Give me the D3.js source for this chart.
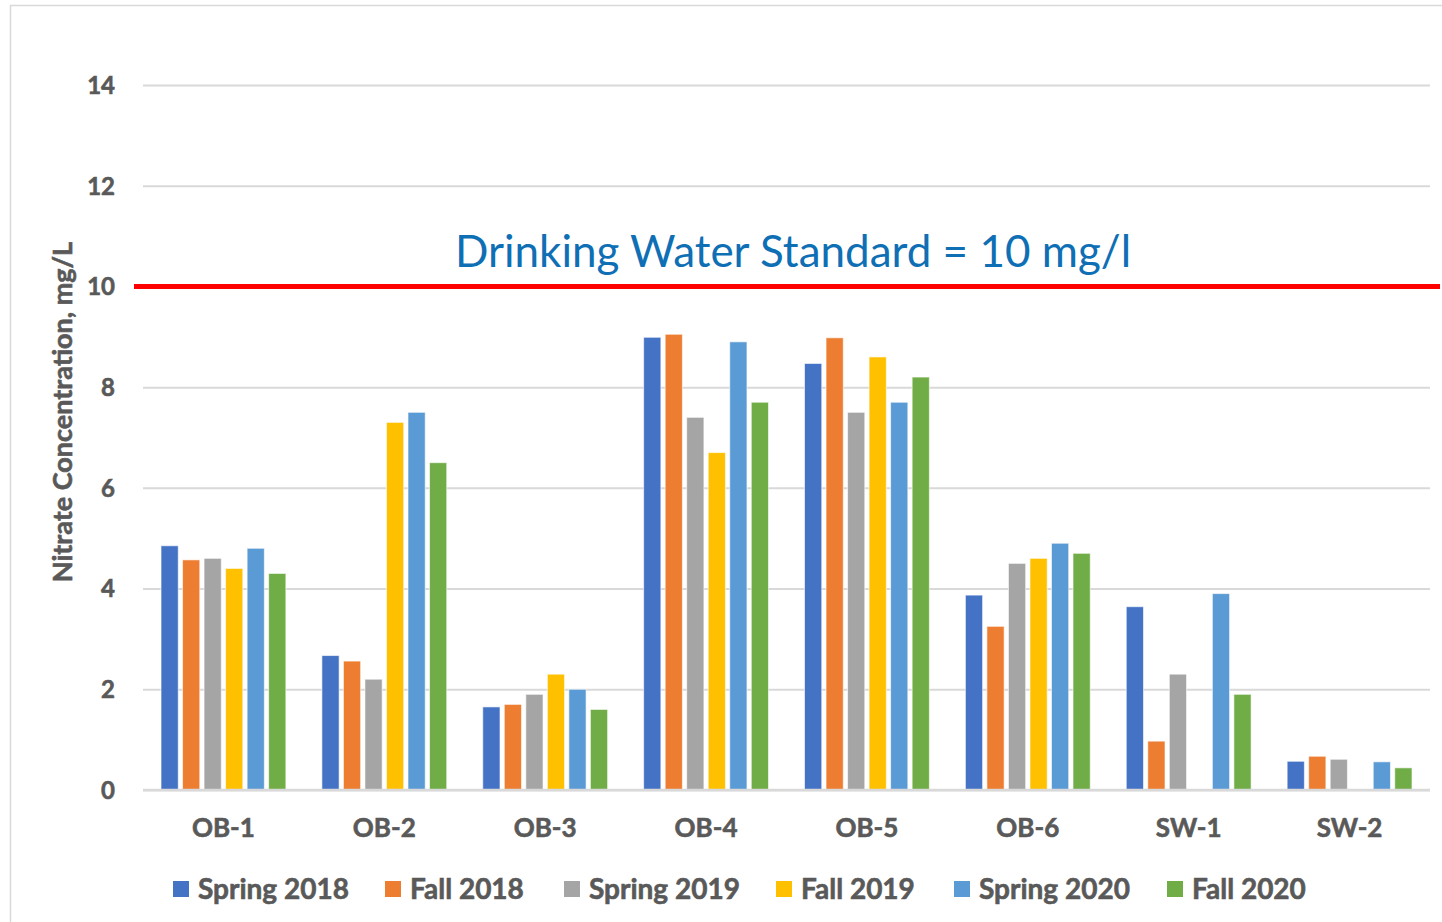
<!DOCTYPE html>
<html>
<head>
<meta charset="utf-8">
<script src="https://cdn.jsdelivr.net/npm/d3@7"></script>
<style>
  body { margin: 0; background: #fff; }
  svg { display: block; }
  text { font-family: Lato, "Open Sans", sans-serif; }
  .bold { stroke: #595959; stroke-width: 0.6px; }
</style>
</head>
<body>
<div id="chart"></div>
<script>
// Wells / sites sampled
var sites = ["OB-1", "OB-2", "OB-3", "OB-4", "OB-5", "OB-6", "SW-1", "SW-2"];
// Sampling events (series)
var seasons = ["Spring 2018", "Fall 2018", "Spring 2019", "Fall 2019", "Spring 2020", "Fall 2020"];
var seasonColors = ["#4472C4", "#ED7D31", "#A5A5A5", "#FFC000", "#5B9BD5", "#70AD47"];

// nitrate, mg/L, one array per season (null = not sampled)
var spring2018 = [4.85, 2.67, 1.65, 8.99, 8.47, 3.87, 3.64, 0.57];
var fall2018   = [4.57, 2.56, 1.70, 9.05, 8.98, 3.25, 0.97, 0.67];
var spring2019 = [4.60, 2.20, 1.90, 7.40, 7.50, 4.50, 2.30, 0.61];
var fall2019   = [4.40, 7.30, 2.30, 6.70, 8.60, 4.60, null, null];
var spring2020 = [4.80, 7.50, 2.00, 8.90, 7.70, 4.90, 3.90, 0.56];
var fall2020   = [4.30, 6.50, 1.60, 7.70, 8.20, 4.70, 1.90, 0.44];
var seriesValues = [spring2018, fall2018, spring2019, fall2019, spring2020, fall2020];

var yTicks = [0, 2, 4, 6, 8, 10, 12, 14];
var standard = 10;
var standardLabel = "Drinking Water Standard = 10 mg/l";
var yTitle = "Nitrate Concentration, mg/L";

var W = 1442, H = 922;
var margin = {top: 85, right: 12, bottom: 132, left: 143};

var svg = d3.select("#chart").append("svg")
	.attr("width", W)
	.attr("height", H);

// outer chart frame
svg.append("rect")
	.attr("x", 10.5).attr("y", 5.5)
	.attr("width", W + 10).attr("height", H - 4)
	.attr("fill", "none")
	.attr("stroke", "#d9d9d9")
	.attr("stroke-width", 1.5);

var x0 = d3.scaleBand()
	.domain(sites)
	.range([margin.left, W - margin.right])
	.paddingInner(0.224)
	.paddingOuter(0.112);

var x1 = d3.scaleBand()
	.domain(seasons)
	.range([0, x0.bandwidth()])
	.paddingInner(0.2);

var y = d3.scaleLinear()
	.domain([0, 14])
	.range([H - margin.bottom, margin.top]);

var color = d3.scaleOrdinal().domain(seasons).range(seasonColors);

// gridlines
var yAxis = d3.axisLeft(y)
	.tickValues(yTicks)
	.tickSize(-(W - margin.right - margin.left))
	.tickPadding(28)
	.tickFormat(d3.format("d"));

var gy = svg.append("g")
	.attr("transform", "translate(" + margin.left + ",0)")
	.call(yAxis);
gy.select(".domain").remove();
gy.selectAll(".tick line")
	.attr("stroke", "#d9d9d9")
	.attr("stroke-width", 2);
gy.selectAll(".tick text")
	.attr("class", "bold")
	.attr("fill", "#595959")
	.attr("font-size", 24)
	.attr("font-weight", "bold")
	.attr("dy", "0.35em");

// bars
var rows = [];
sites.forEach(function (s, i) {
	seasons.forEach(function (k, j) {
		if (seriesValues[j][i] != null) rows.push({site: s, season: k, value: seriesValues[j][i]});
	});
});

svg.append("g").selectAll("rect")
	.data(rows)
	.enter().append("rect")
	.attr("x", function (d) { return x0(d.site) + x1(d.season); })
	.attr("y", function (d) { return y(d.value); })
	.attr("width", x1.bandwidth())
	.attr("height", function (d) { return y(0) - y(d.value); })
	.attr("fill", function (d) { return color(d.season); })
	.attr("stroke", "#fff")
	.attr("stroke-opacity", 0.6)
	.attr("stroke-width", 1);

// baseline
svg.append("line")
	.attr("x1", margin.left).attr("x2", W - margin.right)
	.attr("y1", y(0)).attr("y2", y(0))
	.attr("stroke", "#d9d9d9")
	.attr("stroke-width", 2.5);

// category labels
var gx = svg.append("g")
	.attr("transform", "translate(0," + y(0) + ")")
	.call(d3.axisBottom(x0).tickSize(0).tickPadding(29));
gx.select(".domain").remove();
gx.selectAll(".tick text")
	.attr("class", "bold")
	.attr("fill", "#595959")
	.attr("font-size", 26)
	.attr("font-weight", "bold");

// drinking water standard line
svg.append("line")
	.attr("x1", 134).attr("x2", W - 2)
	.attr("y1", y(standard)).attr("y2", y(standard))
	.attr("stroke", "#ff0000")
	.attr("stroke-width", 5);

svg.append("text")
	.attr("x", 793)
	.attr("y", y(standard) - 19)
	.attr("text-anchor", "middle")
	.attr("fill", "#0F6FB5")
	.attr("font-size", 44)
	.text(standardLabel);

// y axis title
svg.append("text")
	.attr("class", "bold")
	.attr("transform", "translate(72," + 412 + ") rotate(-90)")
	.attr("text-anchor", "middle")
	.attr("fill", "#595959")
	.attr("font-size", 27)
	.attr("font-weight", "bold")
	.text(yTitle);

// legend
var legendX = [173, 385, 564, 776, 954, 1167];
var lg = svg.append("g").selectAll("g")
	.data(seasons)
	.enter().append("g")
	.attr("transform", function (d, i) { return "translate(" + legendX[i] + ",881)"; });
lg.append("rect")
	.attr("width", 16).attr("height", 16)
	.attr("fill", function (d) { return color(d); });
lg.append("text")
	.attr("class", "bold")
	.attr("x", 25).attr("y", 8)
	.attr("dy", "0.35em")
	.attr("fill", "#595959")
	.attr("font-size", 28)
	.attr("font-weight", "bold")
	.text(function (d) { return d; });
</script>
</body>
</html>
